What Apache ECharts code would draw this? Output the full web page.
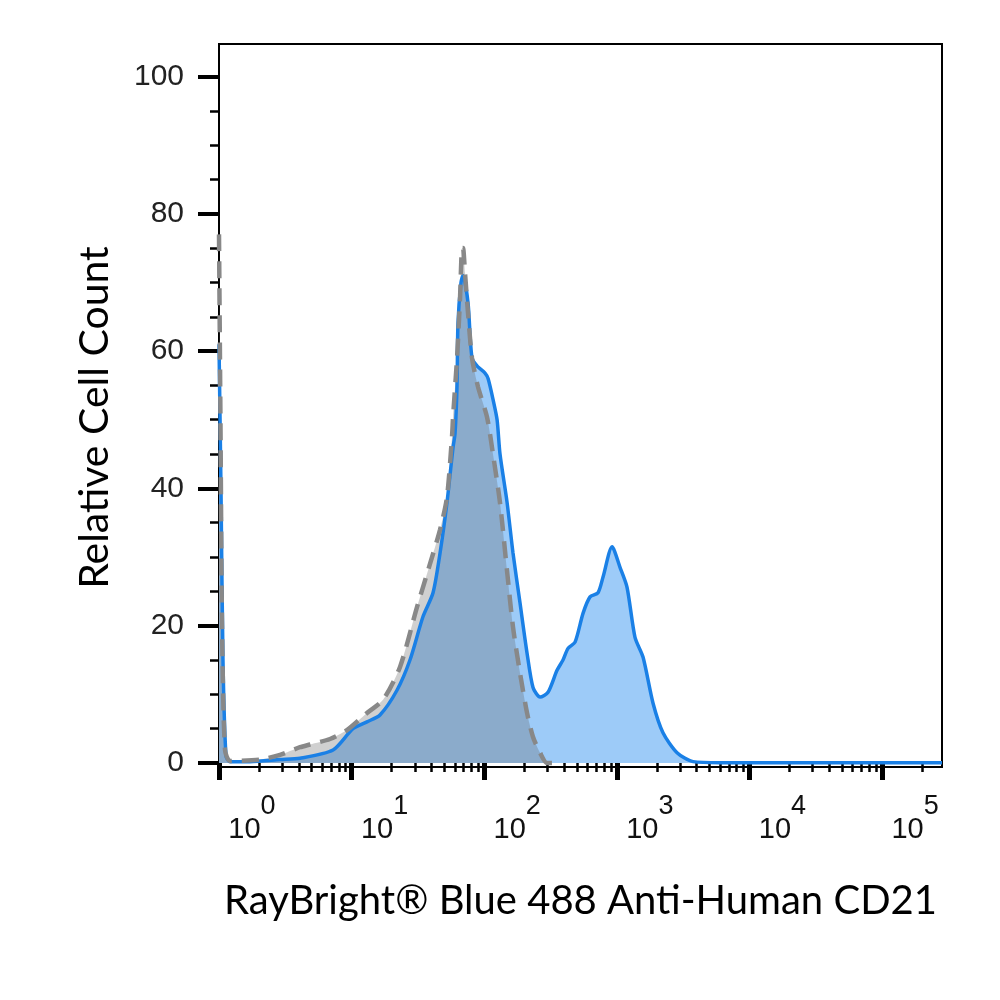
<!DOCTYPE html>
<html>
<head>
<meta charset="utf-8">
<script src="https://cdn.jsdelivr.net/npm/echarts@6/dist/echarts.min.js"></script>
<style>html,body{margin:0;padding:0;background:#fff}#c{width:1000px;height:1000px}</style>
</head>
<body>
<div id="c"></div>
<script>
// x values are log10 of fluorescence intensity (decades)
const blueLog = [0.000,0.015,0.030,0.053,0.083,0.234,0.460,0.611,0.860,1.010,1.116,1.214,1.342,1.440,1.538,1.614,1.667,1.719,1.765,1.780,1.795,1.802,1.825,1.840,1.878,1.908,1.953,2.006,2.029,2.066,2.097,2.119,2.172,2.217,2.270,2.323,2.368,2.421,2.481,2.549,2.594,2.632,2.685,2.745,2.798,2.858,2.896,2.964,3.024,3.077,3.137,3.198,3.273,3.348,3.454,3.575,3.778,4.380,5.452];
const blueCount = [61,40,15,1,0.2,0.2,0.5,0.7,1.9,5.0,6.0,7.0,10.6,15.0,21.3,24.8,30.6,37.9,46,48,55,64,70,71,67,59,57.7,56.8,56,53,50,45,38,30.6,23.3,16,11,9.6,10.3,13.5,15,16.7,17.6,21.8,24.2,24.8,27.1,31.5,28.5,25.6,18.3,15.4,8.7,4.4,1.5,0.2,0.05,0.05,0.05];
const greyLog = [0.000,0.011,0.023,0.045,0.083,0.310,0.460,0.611,0.686,0.837,0.965,1.116,1.237,1.365,1.493,1.591,1.667,1.719,1.757,1.765,1.795,1.818,1.833,1.840,1.855,1.878,1.908,1.953,2.021,2.066,2.119,2.172,2.217,2.270,2.323,2.368,2.421,2.474,2.550];
const greyCount = [77,50,20,2,0.3,0.5,1.2,2.3,2.7,3.5,4.8,7.3,9.2,14,22.7,29,34,38.7,47.5,50.4,59,67.9,75,75,71.4,65.5,59,54.8,50.4,45,37.9,28,19.8,13.1,7.3,3.8,1.5,0,0];
const xMajor = [0,1,2,3,4,5];
const yMajor = [0,20,40,60,80,100];
const yMinor = [5,10,15,25,30,35,45,50,55,65,70,75,85,90,95,105];
const xTitle = 'RayBright\u00AE Blue 488 Anti-Human CD21';
const yTitle = 'Relative Cell Count';

const xMinor = [];
xMajor.forEach(d => { for (let k = 2; k <= 9; k++) { const v = d + Math.log10(k); if (v <= 5.452) xMinor.push(v); } });
const yMinorIn = yMinor.filter(v => v <= 104.7);

const pair = (xs, ys) => xs.map((x, i) => [x, ys[i]]);
const XMIN = 0, XMAX = 5.452, YMIN = -0.58, YMAX = 104.73;

const chart = echarts.init(document.getElementById('c'));
chart.setOption({
  animation: false,
  backgroundColor: '#fff',
  grid: { left: 219, right: 58, top: 44, bottom: 233, show: true, borderColor: '#000', borderWidth: 2, backgroundColor: 'transparent', containLabel: false, outerBoundsMode: 'none' },
  xAxis: [
    { type: 'value', min: XMIN, max: XMAX, position: 'bottom', splitLine: { show: false },
      axisLine: { show: false },
      axisTick: { show: true, customValues: xMajor, length: 17, lineStyle: { color: '#000', width: 5 } },
      axisLabel: { customValues: xMajor, margin: 26, color: '#111',
        formatter: v => '{b|10}{s|' + v + '}',
        rich: { b: { fontFamily: 'Liberation Sans', fontSize: 29, padding: [22, 0, 0, 66], color: '#111' },
                s: { fontFamily: 'Liberation Sans', fontSize: 27, verticalAlign: 'top', color: '#111' } } },
      name: xTitle, nameLocation: 'middle', nameGap: 114, nameMoveOverlap: false,
      nameTextStyle: { fontFamily: 'Lato', fontSize: 40, color: '#000' } },
    { type: 'value', min: XMIN, max: XMAX, position: 'bottom', splitLine: { show: false },
      axisLine: { show: false },
      axisTick: { show: true, customValues: xMinor, length: 9, lineStyle: { color: '#000', width: 2.5 } },
      axisLabel: { show: false } }
  ],
  yAxis: [
    { type: 'value', min: YMIN, max: YMAX, position: 'left', splitLine: { show: false },
      axisLine: { show: false },
      axisTick: { show: true, customValues: yMajor, length: 21, lineStyle: { color: '#000', width: 4 } },
      axisLabel: { customValues: yMajor, margin: 35, fontFamily: 'Liberation Sans', fontSize: 30, color: '#222' },
      name: yTitle, nameLocation: 'middle', nameGap: 104, nameMoveOverlap: false,
      nameTextStyle: { fontFamily: 'Lato', fontSize: 41, color: '#000', padding: [0, 24, 0, 0] } },
    { type: 'value', min: YMIN, max: YMAX, position: 'left', splitLine: { show: false },
      axisLine: { show: false },
      axisTick: { show: true, customValues: yMinorIn, length: 9, lineStyle: { color: '#000', width: 2.5 } },
      axisLabel: { show: false } }
  ],
  series: [
    { type: 'line', name: 'stainFill', data: pair(blueLog, blueCount), smooth: 0.25, symbol: 'none', z: 2,
      lineStyle: { width: 0 }, areaStyle: { color: '#9dcbf8', opacity: 1 } },
    { type: 'line', name: 'controlFill', data: pair(greyLog, greyCount), smooth: 0.25, symbol: 'none', z: 3,
      lineStyle: { width: 0 }, areaStyle: { color: 'rgb(100,100,100)', opacity: 0.3 } },
    { type: 'line', name: 'stain', data: pair(blueLog, blueCount), smooth: 0.25, symbol: 'none', z: 4,
      lineStyle: { color: '#1a80e6', width: 3.5 } },
    { type: 'line', name: 'control', data: pair(greyLog, greyCount), smooth: 0.25, symbol: 'none', z: 5,
      lineStyle: { color: '#888888', width: 4.5, type: [17, 10] } }
  ]
});
</script>
</body>
</html>
